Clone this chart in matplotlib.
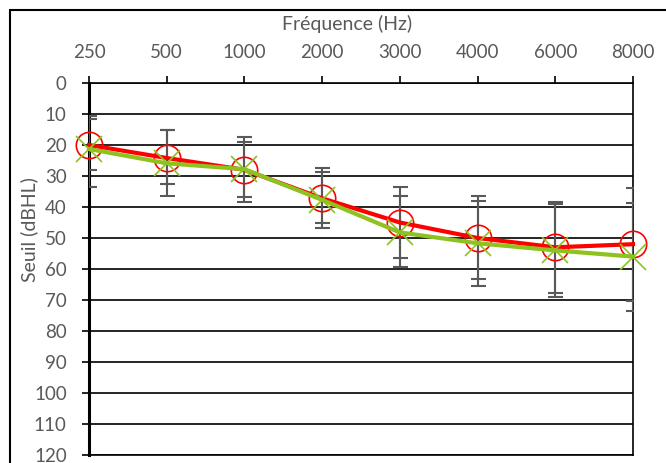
import matplotlib
matplotlib.use("Agg")
import matplotlib.pyplot as plt
from matplotlib.patches import Rectangle

# --- data ---
freqs = ["250", "500", "1000", "2000", "3000", "4000", "6000", "8000"]
red_vals = [20, 24.2, 28, 37.2, 45, 50, 53, 52]
green_vals = [21.3, 25.9, 27.8, 37.7, 48.2, 51.7, 54, 56]
# error bar limits (top, bottom) as read from the caps
red_lo = [11.6, 15.3, 19.1, 28.8, 36.3, 38.0, 39.0, 38.8]
red_hi = [28.1, 32.7, 36.7, 45.0, 56.6, 63.3, 67.6, 70.4]
green_lo = [10.5, 15.3, 17.4, 27.5, 33.4, 36.5, 38.4, 33.9]
green_hi = [33.4, 36.5, 38.5, 46.7, 59.2, 65.5, 68.9, 73.4]
y_ticks = list(range(0, 121, 10))

TEXT = "#595959"
RED = "#FF0000"
GREEN = "#8DC21F"
W, H = 666, 463

plt.rcParams["font.family"] = ["Lato", "DejaVu Sans"]

fig = plt.figure(figsize=(W / 100, H / 100), dpi=100)
ax = fig.add_axes([89 / W, (H - 455) / H, (633 - 89) / W, (455 - 83) / H])

x = list(range(len(freqs)))

# error bars first, gray
for vals, lo, hi in [(red_vals, red_lo, red_hi), (green_vals, green_lo, green_hi)]:
    yerr = [[v - l for v, l in zip(vals, lo)], [h - v for v, h in zip(vals, hi)]]
    ax.errorbar(x, vals, yerr=yerr, fmt="none", ecolor=TEXT, elinewidth=1.5,
                capsize=5.4, capthick=1.5, zorder=3)

ax.plot(x, red_vals, color=RED, linewidth=3, marker="o", markersize=19,
        markerfacecolor="none", markeredgecolor=RED, markeredgewidth=1.2,
        zorder=4, clip_on=False)
ax.plot(x, green_vals, color=GREEN, linewidth=3, marker="x", markersize=19,
        markeredgecolor=GREEN, markeredgewidth=1.2, zorder=5, clip_on=False)

ax.set_xlim(0, len(freqs) - 1)
ax.set_ylim(120, 0)
ax.set_xticks(x)
ax.set_xticklabels(freqs)
ax.set_yticks(y_ticks)
ax.xaxis.tick_top()
ax.tick_params(axis="x", direction="out", length=5, width=1.2, color="black",
               labelsize=13.5, labelcolor=TEXT, pad=11)
ax.tick_params(axis="y", direction="out", length=5, width=1.2, color="black",
               labelsize=13.5, labelcolor=TEXT, pad=11)

ax.grid(axis="y", color="black", linewidth=1.2, zorder=1)
ax.set_axisbelow(True)
for side in ["top", "bottom", "right"]:
    ax.spines[side].set_linewidth(1.2)
    ax.spines[side].set_color("black")
ax.spines["left"].set_linewidth(2.2)

fig.text(347 / W, 1 - 24 / H, "Fréquence (Hz)", ha="center", va="center",
         fontsize=14, color=TEXT)
fig.text(29 / W, 1 - 230 / H, "Seuil (dBHL)", ha="center", va="center",
         rotation=90, fontsize=14, color=TEXT)

# outer chart border (cropped at right and bottom)
fig.patches.append(Rectangle((10 / W, -0.1), 2, 1.1 - 10 / H, fill=False,
                             edgecolor="black", linewidth=1.5,
                             transform=fig.transFigure, figure=fig))

fig.savefig("out.png", dpi=100)
